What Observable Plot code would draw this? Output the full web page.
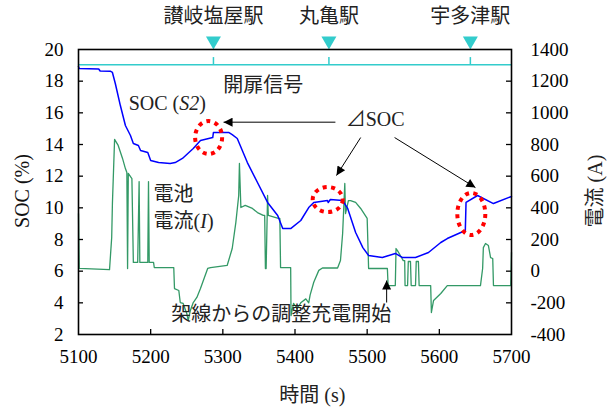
<!DOCTYPE html>
<html><head><meta charset="utf-8">
<script src="https://cdn.jsdelivr.net/npm/d3@7"></script>
<script src="https://cdn.jsdelivr.net/npm/@observablehq/plot@0.6"></script>
<style>html,body{margin:0;padding:0;background:#fff;} svg{display:block}</style>
</head><body><div id="chart"></div>
<script>
// ---- data ----
const socT = [5100,5101,5128,5130,5144,5147,5151,5158,5165,5172,5176,5183,5186,5196,5200,5211,5227,5234,5244,5259,5269,5286,5287,5308,5313,5320,5334,5348,5362,5376,5383,5394,5408,5419,5426,5445,5446,5449,5466,5473,5484,5494,5502,5521,5539,5549,5567,5585,5602,5611,5636,5637,5653,5675,5700];
const socV = [18.93,18.80,18.77,18.64,18.63,18.55,17.85,16.46,15.20,14.57,14.06,13.94,13.62,13.49,12.99,12.86,12.80,12.86,13.12,13.75,14.25,14.44,14.76,14.76,14.62,14.38,12.86,11.60,10.34,9.52,8.69,8.69,9.20,10.02,10.34,10.46,10.34,10.53,10.46,9.96,8.44,7.49,6.99,6.86,7.12,6.86,6.86,7.18,7.81,8.06,8.57,10.34,10.78,10.27,10.72];

const curT = [5100,5101,5143,5146,5147,5150,5155,5161,5165,5167,5168,5169,5174,5176,5182,5184,5185,5196,5197,5198,5204,5205,5232,5233,5239,5241,5245,5250,5252,5255,5259,5264,5269,5279,5283,5306,5313,5318,5322,5323,5325,5331,5341,5348,5356,5358,5359,5360,5362,5363,5377,5379,5380,5394,5394.5,5398,5403,5408,5415,5419,5421,5426,5433,5438,5459,5463,5466,5469,5470,5474,5477,5484,5491,5500,5502,5528,5529,5539,5540,5542,5546,5550,5552,5552.5,5556,5557,5560,5561,5567,5568,5571,5572,5588,5589,5592,5602,5611,5657,5660,5661,5664,5668,5671,5674,5675,5699,5700];
const curA = [364,17,10,213,427,832,794,712,648,623,17,617,585,55,55,566,55,55,566,55,55,23,23,-110,-122,-198,-204,-267,-312,-248,-198,-166,-110,17,23,36,143,307,478,680,402,415,396,370,352,352,17,17,478,352,333,333,23,23,-280,-204,-236,-200,-175,-200,-150,-70,5,20,20,67,238,554,364,446,446,434,396,333,17,17,-91,-91,143,130,99,67,67,-91,-91,61,61,-91,-91,61,61,-91,-91,-261,-185,-141,-91,-91,17,149,175,162,86,80,-91,-91,118];

const xTicks = [5100,5200,5300,5400,5500,5600,5700];
const socTicks = [2,4,6,8,10,12,14,16,18,20];
const curTicks = [-400,-200,0,200,400,600,800,1000,1200,1400];

const stationNames = ["讃岐塩屋駅","丸亀駅","宇多津駅"];
const stationT = [5287,5447,5643];
const doorSignal = 19.03;          // 開扉信号 level (SOC-axis units)

const cjkText = ["開扉信号","架線からの調整充電開始"];
const cjkT    = [5356,5381];
const cjkS    = [17.73,3.26];
const latText = ["SOC (S2)","⊿SOC"];
const latT    = [5223,5511];
const latS    = [16.56,15.58];
const batText = ["電池","電流(I)"];
const batT    = [5204,5204];
const batS    = [10.84,9.14];

const arrowT1 = [5456,5491,5538,5527];
const arrowS1 = [15.41,14.44,14.44,4.02];
const arrowT2 = [5301,5457.5,5650,5527];
const arrowS2 = [15.41,12.04,11.28,5.41];

const ellT  = [5281,5446,5645];
const ellS  = [14.41,10.49,9.58];
const ellDT = [18.7,20.8,19.4];
const ellDS = [1.04,0.79,1.33];

// current (A) -> SOC axis position
const toSoc = a => a / 100 + 6;

const socData = socT.map((t, i) => ({t, v: socV[i]}));
const curData = curT.map((t, i) => ({t, v: toSoc(curA[i])}));
const cjk = cjkText.map((s, i) => ({s, t: cjkT[i], y: cjkS[i]}));
const lat = latText.map((s, i) => ({s, t: latT[i], y: latS[i]}));
const bats = batText.map((s, i) => ({s, t: batT[i], y: batS[i]}));
const arrows = arrowT1.map((t, i) => ({x1: t, y1: arrowS1[i], x2: arrowT2[i], y2: arrowS2[i]}));
const stations = stationNames.map((s, i) => ({s, t: stationT[i]}));

const SERIF = "'Liberation Serif'";
const MIXED = "'Liberation Serif', 'Noto Sans CJK JP', serif";
const CYAN = "#33cccc";
const T = {fontFamily: SERIF};
const J = {fontFamily: MIXED, fill: "#222"};

const chart = Plot.plot({
  width: 611, height: 407,
  marginLeft: 78, marginRight: 100, marginTop: 49, marginBottom: 73,
  x: {domain: [5100, 5700]},
  y: {domain: [2, 20]},
  style: {fontFamily: SERIF, fontSize: "19px"},
  marks: [
    // door-signal line + station ticks
    Plot.ruleY([doorSignal], {stroke: CYAN, strokeWidth: 1.5}),
    Plot.ruleX(stations, {x: "t", y1: doorSignal, y2: 19.49, stroke: CYAN, strokeWidth: 1.5}),
    Plot.dot(stations, {x: "t", y: 20.55, symbol: "triangle", r: 5.57, fill: CYAN, rotate: 180}),
    Plot.text(stations, {...J, x: "t", y: 22.08, text: "s", fontSize: 20}),
    // series
    Plot.line(curData, {x: "t", y: "v", stroke: "#339966", strokeWidth: 1.3}),
    Plot.line(socData, {x: "t", y: "v", stroke: "#0000ff", strokeWidth: 1.5}),
    // inward ticks
    Plot.tickX(xTicks.slice(1, -1), {x: d => d, insetTop: 280, stroke: "black", strokeWidth: 1.3}),
    Plot.tickY(socTicks.slice(1, -1), {y: d => d, insetRight: 428, stroke: "black", strokeWidth: 1.3}),
    Plot.tickY(socTicks.slice(1, -1), {y: d => d, insetLeft: 428, stroke: "black", strokeWidth: 1.3}),
    // axes labels
    Plot.axisX(xTicks, {...T, tickSize: 0, tickPadding: 15, fontSize: 19, label: null, tickFormat: d => String(d)}),
    Plot.axisY(socTicks, {...T, anchor: "left", tickSize: 0, tickPadding: 15, fontSize: 19, label: null, tickFormat: d => String(d)}),
    Plot.axisY(curTicks.map(toSoc), {...T, anchor: "right", tickSize: 0, tickPadding: 19, fontSize: 19, label: null,
      tickFormat: d => String(Math.round((d - 6) * 100))}),
    // axis titles
    Plot.text(["時間 (s)"], {...J, x: 5424, y: -1.85, text: d => d, fontSize: 20}),
    Plot.text(["SOC (%)"], {...T, x: 5023, y: 11.06, text: d => d, fontSize: 20, rotate: -90, fill: "#111"}),
    Plot.text(["電流 (A)"], {...J, x: 5816, y: 11.06, text: d => d, fontSize: 20, rotate: -90}),
    // annotations
    Plot.link(arrows, {x1: "x1", y1: "y1", x2: "x2", y2: "y2", stroke: "black", strokeWidth: 1}),
    Plot.text(cjk, {...J, x: "t", y: "y", text: "s", fontSize: 20}),
    Plot.text(lat, {fontFamily: MIXED, x: "t", y: "y", text: "s", fontSize: 20, fill: "#222"}),
    Plot.text(bats, {...J, x: "t", y: "y", text: "s", fontSize: 20, textAnchor: "start"}),
    Plot.frame({stroke: "black", strokeWidth: 1.6})
  ]
});

document.getElementById("chart").appendChild(chart);

// ---- post-processing: arrowheads, dotted ellipses, italics ----
const svg = d3.select(chart);
const sx = chart.scale("x"), sy = chart.scale("y");
const defs = svg.append("defs");
defs.append("marker").attr("id", "ah").attr("viewBox", "0 0 10 10")
  .attr("refX", 10).attr("refY", 5).attr("markerWidth", 11).attr("markerHeight", 9)
  .attr("markerUnits", "userSpaceOnUse").attr("orient", "auto")
  .append("path").attr("d", "M0,0L10,5L0,10Z").attr("fill", "black");
svg.selectAll('g[aria-label="link"] path').attr("marker-end", "url(#ah)");

const eg = svg.append("g");
ellT.forEach((t, i) => {
  const cx = sx.apply(t), cy = sy.apply(ellS[i]);
  eg.append("ellipse")
    .attr("cx", cx).attr("cy", cy)
    .attr("rx", Math.abs(sx.apply(t + ellDT[i]) - cx))
    .attr("ry", Math.abs(sy.apply(ellS[i] + ellDS[i]) - cy))
    .attr("fill", "none").attr("stroke", "#ff0000").attr("stroke-width", 4)
    .attr("stroke-dasharray", "4 4.5");
});

svg.selectAll("text").each(function() {
  const el = d3.select(this);
  const s = el.text();
  if (s === "SOC (S2)") {
    el.text(null);
    el.append("tspan").text("SOC (");
    el.append("tspan").attr("font-style", "italic").text("S2");
    el.append("tspan").text(")");
  } else if (s === "電流(I)") {
    el.text(null);
    el.append("tspan").text("電流(");
    el.append("tspan").attr("font-style", "italic").text("I");
    el.append("tspan").text(")");
  }
});
</script>
</body></html>
